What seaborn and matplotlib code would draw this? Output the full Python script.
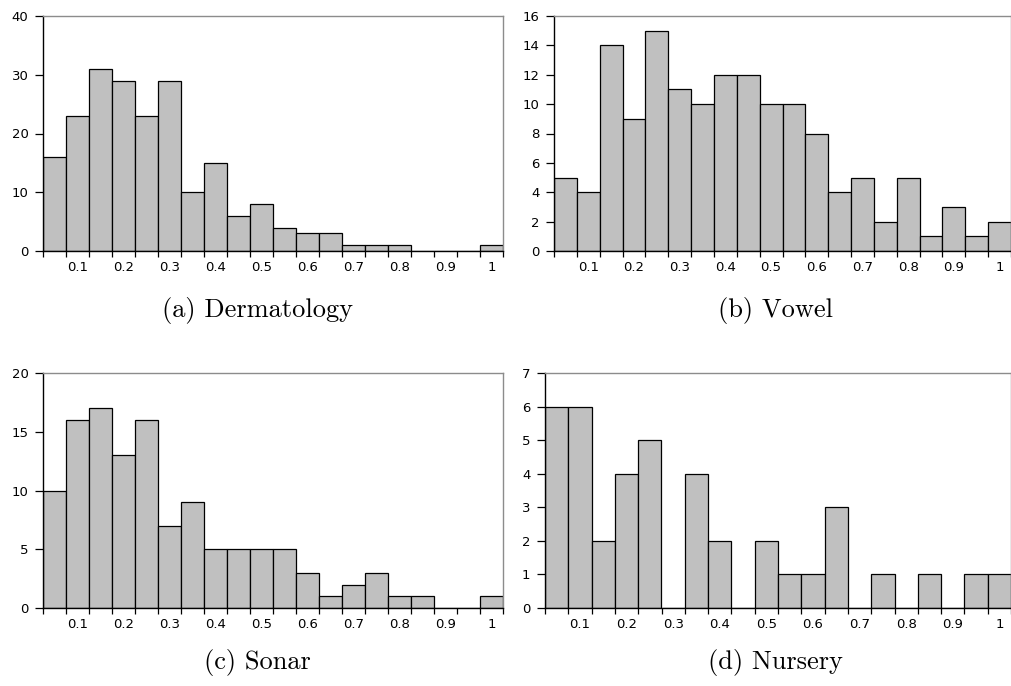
import numpy as np
import pandas as pd
import matplotlib
matplotlib.use("Agg")
import matplotlib.pyplot as plt
import seaborn as sns

# ---- data ----
bin_labels = ["0.05", "0.1", "0.15", "0.2", "0.25", "0.3", "0.35", "0.4", "0.45", "0.5",
              "0.55", "0.6", "0.65", "0.7", "0.75", "0.8", "0.85", "0.9", "0.95", "1"]
dermatology = [16, 23, 31, 29, 23, 29, 10, 15, 6, 8, 4, 3, 3, 1, 1, 1, 0, 0, 0, 1]
vowel = [5, 4, 14, 9, 15, 11, 10, 12, 12, 10, 10, 8, 4, 5, 2, 5, 1, 3, 1, 2]
sonar = [10, 16, 17, 13, 16, 7, 9, 5, 5, 5, 5, 3, 1, 2, 3, 1, 1, 0, 0, 1]
nursery = [6, 6, 2, 4, 5, 0, 4, 2, 0, 2, 1, 1, 3, 0, 1, 0, 1, 0, 1, 1]
tick_labels = ["0.1", "0.2", "0.3", "0.4", "0.5", "0.6", "0.7", "0.8", "0.9", "1"]
captions = ["(a) Dermatology", "(b) Vowel", "(c) Sonar", "(d) Nursery"]
ylims = [40, 16, 20, 7]
ysteps = [10, 2, 5, 1]

sns.set_style("ticks")
plt.rcParams["font.family"] = ["DejaVu Sans"]

W, H = 1011, 686
fig = plt.figure(figsize=(W / 100, H / 100), dpi=100)

# axes rectangles in pixels: left, top, right, bottom
rects = [(43, 16, 503, 251), (554, 16, 1011, 251),
         (43, 373, 503, 608), (545, 373, 1011, 608)]
series = [dermatology, vowel, sonar, nursery]
cap_pos = [(257, 311), (775, 311), (257, 662), (775, 662)]

for i in range(4):
    l, t, r, b = rects[i]
    ax = fig.add_axes([l / W, 1 - b / H, (r - l) / W, (b - t) / H])
    df = pd.DataFrame({"bin": bin_labels, "count": series[i]})
    sns.barplot(data=df, x="bin", y="count", order=bin_labels, ax=ax,
                color="#c0c0c0", saturation=1, width=1.0,
                edgecolor="black", linewidth=0.9)
    n = len(bin_labels)
    ax.set_xlim(-0.5, n - 0.5)
    ax.set_ylim(0, ylims[i])
    ax.set_yticks(np.arange(0, ylims[i] + 0.001, ysteps[i]))
    ax.set_xticks(np.arange(1, n, 2))
    ax.set_xticklabels(tick_labels)
    ax.set_xticks(np.arange(-0.5, n, 1.0), minor=True)
    ax.tick_params(axis="x", which="major", length=0, pad=7, labelsize=9.5, colors="black")
    ax.tick_params(axis="x", which="minor", length=4.5, width=0.9, direction="out", color="black")
    ax.tick_params(axis="y", length=6, width=0.9, pad=4.5, labelsize=9.5, colors="black")
    ax.set_xlabel("")
    ax.set_ylabel("")
    for s in ["left", "bottom"]:
        ax.spines[s].set_color("black")
        ax.spines[s].set_linewidth(1.0)
    for s in ["top", "right"]:
        ax.spines[s].set_visible(True)
        ax.spines[s].set_color("#8c8c8c")
        ax.spines[s].set_linewidth(1.0)
    cx, cy = cap_pos[i]
    fig.text(cx / W, 1 - cy / H, captions[i], ha="center", va="center",
             fontsize=19, color="black", family=["cmr10", "DejaVu Serif"])

fig.savefig("out.png", dpi=100)
